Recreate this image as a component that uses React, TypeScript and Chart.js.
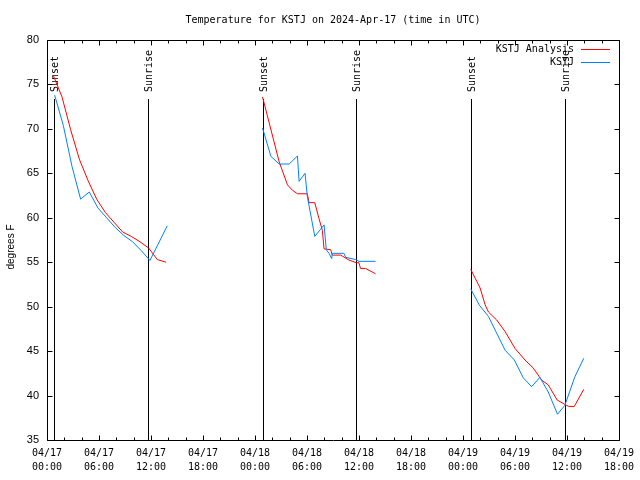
import React, { useEffect, useRef } from 'react';
import { Chart, registerables } from 'chart.js';

Chart.register(...registerables);

const titleText = 'Temperature for KSTJ on 2024-Apr-17 (time in UTC)';
const yAxisTitle = 'degrees F';
const seriesNames = ['KSTJ Analysis', 'KSTJ'];
const seriesColors = ['#ff0000', '#0080ff'];

// times are hours since 2024-04-17 00:00 UTC, values in degrees F
const analysisHours1 = [0.73, 1.73, 2.73, 3.73, 4.73, 5.73, 6.73, 7.73, 8.73, 9.73, 10.73, 11.73, 12.73, 13.73];
const analysisTemps1 = [76.0, 73.6, 69.9, 66.6, 64.2, 62.1, 60.6, 59.5, 58.4, 57.9, 57.3, 56.6, 55.3, 55.0];
const analysisHours2 = [24.87, 26.79, 27.75, 28.32, 28.9, 30.04, 30.24, 30.9, 31.39, 31.77, 31.97, 32.74, 32.92, 33.89, 34.84, 35.68, 35.99, 36.18, 36.76, 37.91];
const analysisTemps2 = [73.6, 66.3, 63.7, 63.1, 62.7, 62.7, 61.7, 61.7, 59.9, 58.6, 56.5, 56.4, 55.8, 55.8, 55.25, 54.95, 54.95, 54.3, 54.3, 53.7];
const analysisHours3 = [48.9, 49.41, 49.98, 50.56, 50.94, 51.89, 52.86, 54.01, 55.16, 56.11, 57.07, 57.84, 58.87, 59.68, 60.14, 60.83, 61.94];
const analysisTemps3 = [54.2, 53.2, 52.1, 50.2, 49.4, 48.5, 47.2, 45.3, 44.0, 43.1, 41.75, 41.2, 39.5, 39.05, 38.8, 38.75, 40.7];

const obsHours1 = [0.88, 1.88, 2.88, 3.88, 4.88, 5.88, 6.88, 7.88, 8.88, 9.88, 10.88, 11.88, 13.88];
const obsTemps1 = [73.8, 70.4, 65.8, 62.1, 62.9, 61.1, 60.0, 58.9, 58.0, 57.3, 56.3, 55.2, 59.1];
const obsHours2 = [24.87, 25.84, 26.79, 27.94, 28.9, 29.09, 29.78, 30.04, 30.9, 31.97, 32.23, 32.54, 32.85, 32.92, 34.26, 34.46, 35.61, 35.99, 37.91];
const obsTemps2 = [70.1, 66.9, 66.05, 66.05, 66.95, 64.1, 65.0, 62.4, 57.9, 59.2, 56.4, 56.0, 55.4, 56.0, 56.0, 55.55, 55.3, 55.1, 55.1];
const obsHours3 = [48.9, 49.87, 50.94, 52.86, 53.93, 54.96, 55.92, 56.88, 57.84, 58.91, 59.76, 60.91, 61.94];
const obsTemps3 = [52.0, 50.2, 48.9, 45.1, 44.0, 42.0, 41.0, 42.05, 40.4, 37.9, 38.9, 42.1, 44.2];

const sunsetHours = [0.84, 24.87, 48.9];
const sunriseHours = [11.65, 35.68, 59.76];

const xTickDates = ['04/17', '04/17', '04/17', '04/17', '04/18', '04/18', '04/18', '04/18', '04/19', '04/19', '04/19', '04/19'];
const xTickTimes = ['00:00', '06:00', '12:00', '18:00', '00:00', '06:00', '12:00', '18:00', '00:00', '06:00', '12:00', '18:00'];
const xMin = 0;
const xMax = 66;
const yMin = 35;
const yMax = 80;

const MONO = '"DejaVu Sans Mono", monospace';
const SANS = '"Liberation Sans", Arial, sans-serif';

function toPoints(hours: number[], temps: number[]) {
  return hours.map((h, i) => ({ x: h, y: temps[i] }));
}

const decorPlugin = {
  id: 'gnuplotDecor',
  beforeDatasetsDraw(chart: any) {
    const { ctx, chartArea: a, scales } = chart;
    const x = scales.x;
    ctx.save();
    ctx.strokeStyle = '#000';
    ctx.fillStyle = '#000';
    ctx.lineWidth = 1;
    ctx.font = '10px ' + MONO;
    const drawEvent = (h: number, label: string) => {
      const px = Math.round(x.getPixelForValue(h)) + 0.5;
      ctx.beginPath();
      ctx.moveTo(px, 99);
      ctx.lineTo(px, a.bottom);
      ctx.stroke();
      ctx.save();
      ctx.translate(px + 1, 92);
      ctx.rotate(-Math.PI / 2);
      ctx.textAlign = 'left';
      ctx.textBaseline = 'middle';
      ctx.fillText(label, 0, 0);
      ctx.restore();
    };
    sunsetHours.forEach((h) => drawEvent(h, 'Sunset'));
    sunriseHours.forEach((h) => drawEvent(h, 'Sunrise'));
    ctx.restore();
  },
  afterDraw(chart: any) {
    const { ctx, chartArea: a, scales } = chart;
    const x = scales.x;
    const y = scales.y;
    ctx.save();
    ctx.strokeStyle = '#000';
    ctx.lineWidth = 1;
    const L = Math.round(a.left) + 0.5;
    const R = Math.round(a.right) + 0.5;
    const T = Math.round(a.top) + 0.5;
    const B = Math.round(a.bottom) + 0.5;
    ctx.beginPath();
    ctx.rect(L, T, R - L, B - T);
    ctx.stroke();
    ctx.beginPath();
    for (let h = xMin; h <= xMax; h += 2) {
      const px = Math.round(x.getPixelForValue(h)) + 0.5;
      const len = h % 6 === 0 ? 5 : 3;
      ctx.moveTo(px, B);
      ctx.lineTo(px, B - len);
      ctx.moveTo(px, T);
      ctx.lineTo(px, T + len);
    }
    for (let v = yMin; v <= yMax; v += 5) {
      const py = Math.round(y.getPixelForValue(v)) + 0.5;
      ctx.moveTo(L, py);
      ctx.lineTo(L + 5, py);
      ctx.moveTo(R, py);
      ctx.lineTo(R - 5, py);
    }
    ctx.stroke();

    // title
    ctx.fillStyle = '#000';
    ctx.font = '10px ' + MONO;
    ctx.textAlign = 'center';
    ctx.textBaseline = 'middle';
    ctx.fillText(titleText, 333, 20);

    // y axis title
    ctx.save();
    ctx.translate(11, 247);
    ctx.rotate(-Math.PI / 2);
    ctx.font = '10px ' + SANS;
    ctx.textAlign = 'center';
    ctx.textBaseline = 'middle';
    ctx.fillText(yAxisTitle, 0, 0);
    ctx.restore();

    // legend
    ctx.font = '10px ' + MONO;
    ctx.textAlign = 'right';
    ctx.textBaseline = 'middle';
    const rows = [49.5, 62.5];
    seriesNames.forEach((name, i) => {
      ctx.fillStyle = '#000';
      ctx.fillText(name, 574, rows[i]);
      ctx.strokeStyle = seriesColors[i];
      ctx.beginPath();
      ctx.moveTo(581, rows[i]);
      ctx.lineTo(610, rows[i]);
      ctx.stroke();
    });
    ctx.restore();
  },
};

export default function App() {
  const ref = useRef<HTMLCanvasElement | null>(null);
  useEffect(() => {
    if (!ref.current) return;
    const lineDs = (label: string, data: any[], color: string, order: number) => ({
      label,
      data,
      borderColor: color,
      backgroundColor: color,
      borderWidth: 1,
      pointRadius: 0,
      pointHoverRadius: 0,
      tension: 0,
      fill: false,
      order,
    });
    const chart = new Chart(ref.current, {
      type: 'line',
      data: {
        datasets: [
          lineDs(seriesNames[0], toPoints(analysisHours1, analysisTemps1), seriesColors[0], 1),
          lineDs(seriesNames[0], toPoints(analysisHours2, analysisTemps2), seriesColors[0], 1),
          lineDs(seriesNames[0], toPoints(analysisHours3, analysisTemps3), seriesColors[0], 1),
          lineDs(seriesNames[1], toPoints(obsHours1, obsTemps1), seriesColors[1], 0),
          lineDs(seriesNames[1], toPoints(obsHours2, obsTemps2), seriesColors[1], 0),
          lineDs(seriesNames[1], toPoints(obsHours3, obsTemps3), seriesColors[1], 0),
        ],
      },
      options: {
        responsive: false,
        animation: false,
        layout: { padding: { top: 40, right: 19, bottom: 0, left: 0 } },
        plugins: {
          legend: { display: false },
          title: { display: false },
          tooltip: { enabled: false },
        },
        scales: {
          x: {
            type: 'linear',
            min: xMin,
            max: xMax,
            grid: { display: false, drawTicks: false },
            border: { display: false },
            afterFit: (s: any) => {
              s.height = 40;
            },
            ticks: {
              stepSize: 2,
              autoSkip: false,
              maxRotation: 0,
              minRotation: 0,
              padding: 6,
              color: '#000',
              font: { family: MONO, size: 10, lineHeight: 1.4 },
              callback: (v: any) => {
                const n = Number(v);
                if (n % 6 !== 0) return '';
                const i = n / 6;
                return [xTickDates[i], xTickTimes[i]];
              },
            },
          },
          y: {
            type: 'linear',
            min: yMin,
            max: yMax,
            grid: { display: false, drawTicks: false },
            border: { display: false },
            afterFit: (s: any) => {
              s.width = 47;
            },
            ticks: {
              stepSize: 5,
              padding: 8,
              color: '#000',
              font: { family: SANS, size: 11 },
            },
          },
        },
      },
      plugins: [decorPlugin],
    } as any);
    return () => chart.destroy();
  }, []);
  return (
    <div style={{ position: 'absolute', left: 0, top: 0, width: 640, height: 480, background: '#fff' }}>
      <canvas ref={ref} width={640} height={480} />
    </div>
  );
}
